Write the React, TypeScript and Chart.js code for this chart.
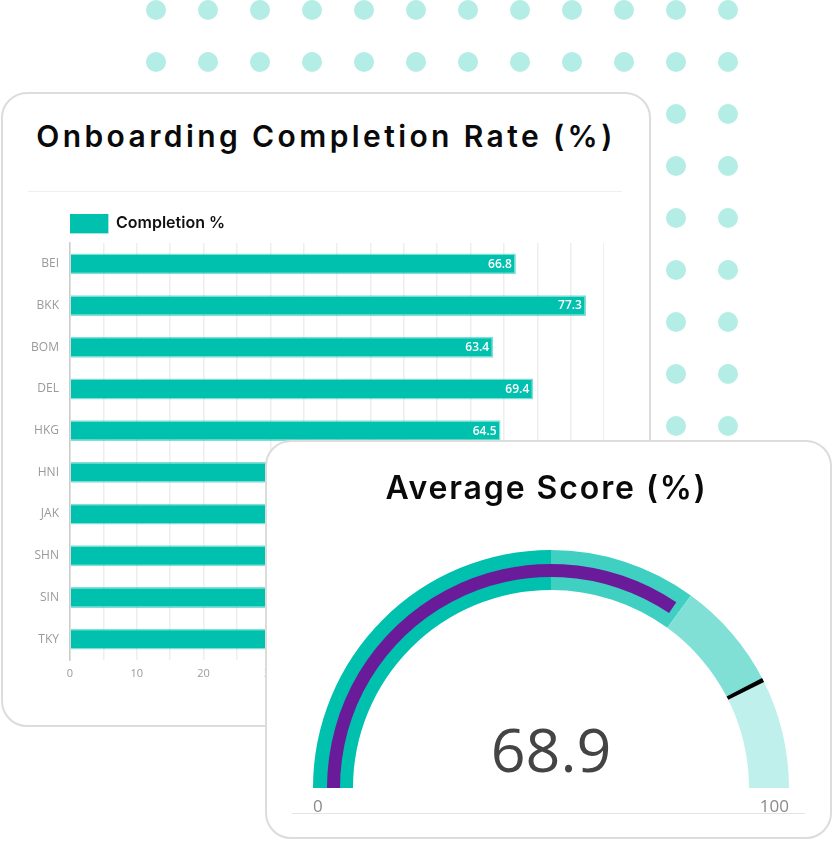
import React, { useEffect, useRef } from "react";
import { Chart, registerables } from "chart.js";

Chart.register(...registerables);

// ---------------- data ----------------
const cities = ["BEI", "BKK", "BOM", "DEL", "HKG", "HNI", "JAK", "SHN", "SIN", "TKY"];
const completionPct = [66.8, 77.3, 63.4, 69.4, 64.5, 71.2, 65.8, 73.6, 70.5, 67.9];
const seriesLabel = "Completion %";
const xAxisMin = 0;
const xAxisMax = 80;
const xGridStep = 5;
const xLabelStep = 10;

const averageScore = 68.9;
const gaugeMin = 0;
const gaugeMax = 100;
const stepBounds = [0, 50, 70, 85, 100];
const thresholdValue = 85;
const gaugeTickLabels = ["0", "100"];

const chartTitle = "Onboarding Completion Rate (%)";
const gaugeTitle = "Average Score (%)";

// ---------------- styles ----------------
const TEAL = "#00c0ae";
const TEAL_BORDER = "rgba(0,192,174,0.5)";
const STEP_COLORS = ["#00c0ae", "#40d0c2", "#80e0d6", "#bff0eb"];
const BAR_PURPLE = "#6a1b9a";
const DOT = "#b4ece6";
const CARD_BORDER = "#dcdcdc";

const valueLabels = {
  id: "valueLabels",
  afterDatasetsDraw(chart: any) {
    const ctx = chart.ctx;
    const meta = chart.getDatasetMeta(0);
    const vals = chart.data.datasets[0].data as number[];
    ctx.save();
    ctx.font = '600 12px "Open Sans"';
    ctx.fillStyle = "#ffffff";
    ctx.textAlign = "right";
    ctx.textBaseline = "middle";
    meta.data.forEach((bar: any, i: number) => {
      ctx.fillText(vals[i].toFixed(1), bar.x - 4, bar.y + 0.5);
    });
    ctx.restore();
  },
};

function BarChart() {
  const ref = useRef<HTMLCanvasElement>(null);
  useEffect(() => {
    const chart = new Chart(ref.current!, {
      type: "bar",
      data: {
        labels: cities,
        datasets: [
          {
            label: seriesLabel,
            data: completionPct,
            backgroundColor: TEAL,
            borderColor: TEAL_BORDER,
            borderWidth: 1.5,
            categoryPercentage: 0.8,
            barPercentage: 0.625,
          },
        ],
      },
      options: {
        indexAxis: "y",
        responsive: false,
        animation: false,
        events: [],
        layout: { padding: { top: 14, left: 0, right: 0, bottom: 0 } },
        scales: {
          x: {
            min: xAxisMin,
            max: xAxisMax,
            ticks: {
              stepSize: xGridStep,
              autoSkip: false,
              maxRotation: 0,
              callback: (v: any) => (Number(v) % xLabelStep === 0 ? String(v) : ""),
              color: "#9a9a9a",
              font: { family: "Open Sans", size: 11 },
              padding: 7,
            },
            grid: { color: "#eeeeee", lineWidth: 1.5, drawTicks: false },
            border: { display: false },
            afterFit: (s: any) => {
              s.height = 30;
              s.paddingLeft = 0;
              s.paddingRight = 0;
            },
          },
          y: {
            ticks: {
              color: "#9a9a9a",
              font: { family: "Open Sans", size: 12 },
              padding: 11,
            },
            grid: { display: false, drawTicks: false },
            border: { display: true, color: "#cccccc", width: 1.5 },
            afterFit: (s: any) => {
              s.width = 60;
              s.paddingTop = 0;
              s.paddingBottom = 0;
            },
          },
        },
        plugins: {
          legend: {
            display: true,
            position: "top",
            align: "start",
            fullSize: false,
            labels: {
              boxWidth: 38,
              boxHeight: 19,
              padding: 0,
              color: "#111111",
              font: { family: "Inter", size: 16, weight: "600" },
            },
          },
          tooltip: { enabled: false },
        },
      } as any,
      plugins: [valueLabels],
    });
    return () => chart.destroy();
  }, []);
  return (
    <canvas
      ref={ref}
      width={594}
      height={490}
      style={{ position: "absolute", left: 10, top: 200, width: 594, height: 490 }}
    />
  );
}

function GaugeRing(props: {
  cx: number;
  cy: number;
  outer: number;
  inner: number;
  data: number[];
  colors: string[];
}) {
  const { cx, cy, outer, inner, data, colors } = props;
  const pad = 10;
  const W = 2 * outer + 2 * pad;
  const H = outer + 2 * pad;
  const left = cx - W / 2;
  const top = cy - outer - pad;
  const ref = useRef<HTMLCanvasElement>(null);
  useEffect(() => {
    const chart = new Chart(ref.current!, {
      type: "doughnut",
      data: {
        datasets: [{ data, backgroundColor: colors, borderWidth: 0 }],
      },
      options: {
        responsive: false,
        animation: false,
        events: [],
        rotation: -90,
        circumference: 180,
        radius: outer,
        cutout: (inner / outer) * 100 + "%",
        layout: { padding: 0 },
        plugins: { legend: { display: false }, tooltip: { enabled: false } },
      } as any,
    });
    return () => chart.destroy();
  }, []);
  return (
    <canvas
      ref={ref}
      width={W}
      height={H}
      style={{ position: "absolute", left, top, width: W, height: H }}
    />
  );
}

export default function App() {
  const dots: JSX.Element[] = [];
  for (let j = 0; j < 9; j++) {
    for (let i = 0; i < 12; i++) {
      dots.push(
        <div
          key={`d${i}-${j}`}
          style={{
            position: "absolute",
            left: 146 + 52 * i,
            top: 52 * j,
            width: 20,
            height: 20,
            borderRadius: "50%",
            background: DOT,
          }}
        />
      );
    }
  }

  const stepData = stepBounds.slice(1).map((b, i) => b - stepBounds[i]);
  const barData = [averageScore - gaugeMin, gaugeMax - averageScore];
  const thrHalf = 0.3;
  const thrData = [thresholdValue - thrHalf - gaugeMin, 2 * thrHalf, gaugeMax - thresholdValue - thrHalf];

  const CX = 551;
  const CY = 788;

  return (
    <div
      style={{
        position: "absolute",
        left: 0,
        top: 0,
        width: 839,
        height: 843,
        overflow: "hidden",
        background: "#ffffff",
      }}
    >
      {dots}
      <div
        style={{
          position: "absolute",
          left: 1,
          top: 92,
          width: 650,
          height: 635,
          boxSizing: "border-box",
          border: `2px solid ${CARD_BORDER}`,
          borderRadius: 26,
          background: "#ffffff",
        }}
      />
      <div
        style={{
          position: "absolute",
          left: 1,
          top: 121,
          width: 650,
          height: 30,
          lineHeight: "30px",
          textAlign: "center",
          fontFamily: "Inter",
          fontWeight: 600,
          fontSize: 30,
          letterSpacing: 3.4,
          color: "#0a0a0a",
          whiteSpace: "nowrap",
        }}
      >
        {chartTitle}
      </div>
      <div
        style={{
          position: "absolute",
          left: 28,
          top: 191,
          width: 594,
          height: 1,
          background: "#efefef",
        }}
      />
      <BarChart />

      <div
        style={{
          position: "absolute",
          left: 265,
          top: 440,
          width: 567,
          height: 399,
          boxSizing: "border-box",
          border: `2px solid ${CARD_BORDER}`,
          borderRadius: 26,
          background: "#ffffff",
        }}
      />
      <div
        style={{
          position: "absolute",
          left: 263,
          top: 472,
          width: 567,
          height: 32,
          lineHeight: "32px",
          textAlign: "center",
          fontFamily: "Inter",
          fontWeight: 600,
          fontSize: 32,
          letterSpacing: 1.9,
          color: "#0a0a0a",
          whiteSpace: "nowrap",
        }}
      >
        {gaugeTitle}
      </div>
      <GaugeRing cx={CX} cy={CY} outer={238} inner={198} data={stepData} colors={STEP_COLORS} />
      <GaugeRing
        cx={CX}
        cy={CY}
        outer={224}
        inner={211}
        data={barData}
        colors={[BAR_PURPLE, "rgba(0,0,0,0)"]}
      />
      <GaugeRing
        cx={CX}
        cy={CY}
        outer={238}
        inner={198}
        data={thrData}
        colors={["rgba(0,0,0,0)", "#000000", "rgba(0,0,0,0)"]}
      />
      <div
        style={{
          position: "absolute",
          left: CX - 150,
          top: 718,
          width: 300,
          height: 62,
          lineHeight: "62px",
          textAlign: "center",
          fontFamily: "Open Sans",
          fontSize: 61,
          color: "#444444",
        }}
      >
        {averageScore.toFixed(1)}
      </div>
      <div
        style={{
          position: "absolute",
          left: 313,
          top: 797,
          height: 17,
          lineHeight: "17px",
          fontFamily: "Open Sans",
          fontSize: 17,
          color: "#8a8a8a",
        }}
      >
        {gaugeTickLabels[0]}
      </div>
      <div
        style={{
          position: "absolute",
          left: 689,
          width: 100,
          top: 797,
          height: 17,
          lineHeight: "17px",
          textAlign: "right",
          fontFamily: "Open Sans",
          fontSize: 17,
          color: "#8a8a8a",
        }}
      >
        {gaugeTickLabels[1]}
      </div>
      <div
        style={{
          position: "absolute",
          left: 292,
          top: 813,
          width: 513,
          height: 1,
          background: "#e4e4e4",
        }}
      />
    </div>
  );
}
